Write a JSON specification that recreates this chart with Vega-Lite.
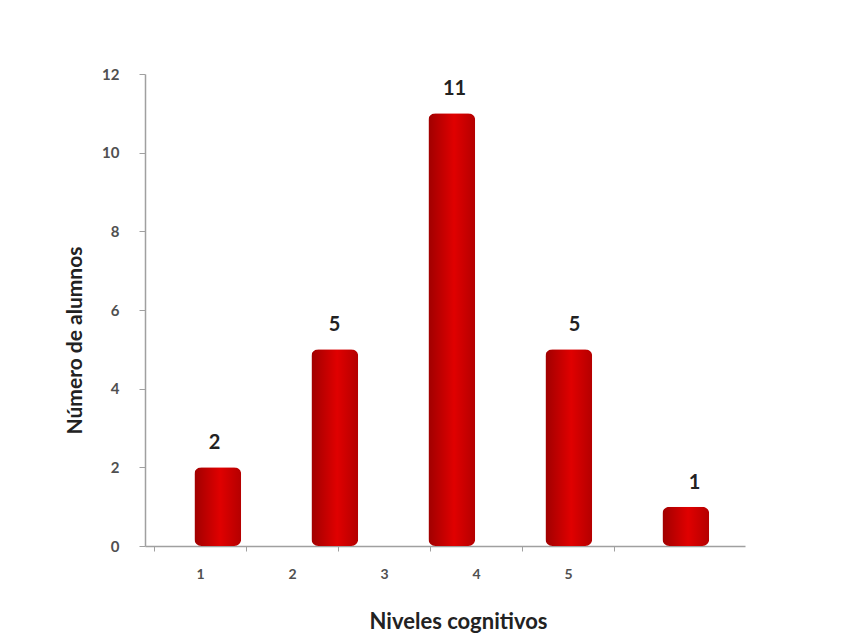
{
  "$schema": "https://vega.github.io/schema/vega-lite/v6.json",
  "width": 600,
  "height": 472,
  "autosize": {"type": "none"},
  "padding": {"left": 145, "top": 74, "right": 104, "bottom": 89},
  "background": "white",
  "config": {
    "view": {"stroke": null},
    "font": "Lato"
  },
  "data": {
    "values": [
      {"nivel": "1", "alumnos": 2},
      {"nivel": "2", "alumnos": 5},
      {"nivel": "3", "alumnos": 11},
      {"nivel": "4", "alumnos": 5},
      {"nivel": "5", "alumnos": 1}
    ]
  },
  "layer": [
    {
      "mark": {"type": "point", "opacity": 0},
      "encoding": {
        "x": {
          "field": "nivel",
          "type": "ordinal",
          "scale": {"paddingInner": 0, "paddingOuter": 0.76, "align": 0.064},
          "axis": {
            "title": "Niveles cognitivos",
            "titleFont": "Lato",
            "titleFontSize": 22,
            "titleFontWeight": "bold",
            "titleColor": "#222222",
            "titlePadding": 30,
            "titleX": 313,
            "labelAngle": 0,
            "labelFontSize": 14,
            "labelFontWeight": "bold",
            "labelColor": "#505050",
            "labelPadding": 16,
            "tickBand": "extent",
            "tickColor": "#a0a0a0",
            "tickSize": 5,
            "domainColor": "#a0a0a0",
            "domainWidth": 1.5
          }
        },
        "y": {"datum": 0, "type": "quantitative", "scale": {"domain": [0, 12]}}
      }
    },
    {
      "mark": {
        "type": "bar",
        "cornerRadius": 7,
        "color": {
          "x1": 0, "y1": 0, "x2": 1, "y2": 0,
          "gradient": "linear",
          "stops": [
            {"offset": 0, "color": "#a00000"},
            {"offset": 0.55, "color": "#e00000"},
            {"offset": 1, "color": "#b40000"}
          ]
        }
      },
      "encoding": {
        "x": {
          "field": "nivel",
          "type": "ordinal",
          "scale": {"paddingInner": 0.6, "paddingOuter": 0.364, "align": 0.58},
          "axis": null
        },
        "y": {
          "field": "alumnos",
          "type": "quantitative",
          "scale": {"domain": [0, 12]},
          "axis": {
            "title": "Número de alumnos",
            "titleFont": "Lato",
            "titleFontSize": 21,
            "titleFontWeight": "bold",
            "titleColor": "#222222",
            "titlePadding": 16,
            "titleY": 266,
            "values": [0, 2, 4, 6, 8, 10, 12],
            "labelFontSize": 15,
            "labelFontWeight": "bold",
            "labelColor": "#505050",
            "labelPadding": 20,
            "tickColor": "#a0a0a0",
            "tickSize": 6,
            "domainColor": "#a0a0a0",
            "domainWidth": 1.5,
            "grid": false
          }
        }
      }
    },
    {
      "mark": {"type": "text", "dy": -24, "fontSize": 20, "fontWeight": "bold", "font": "Lato", "color": "#222222"},
      "encoding": {
        "x": {
          "field": "nivel",
          "type": "ordinal",
          "scale": {"paddingInner": 0.6, "paddingOuter": 0.364, "align": 0.58},
          "axis": null
        },
        "y": {"field": "alumnos", "type": "quantitative", "scale": {"domain": [0, 12]}},
        "text": {"field": "alumnos", "type": "quantitative"}
      }
    }
  ],
  "resolve": {"scale": {"x": "independent"}}
}
